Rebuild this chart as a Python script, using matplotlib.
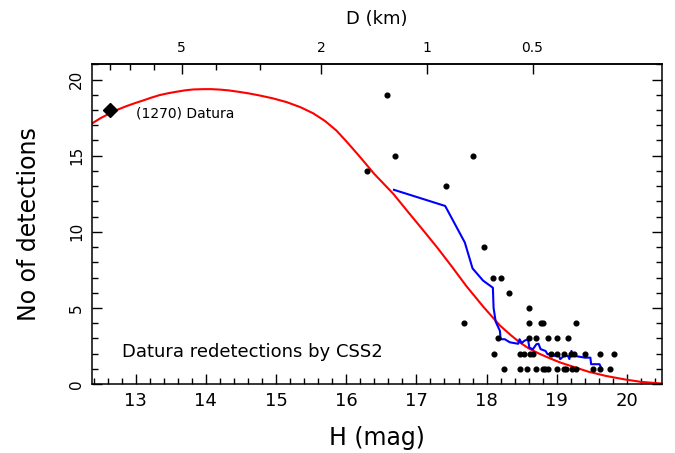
import numpy as np
import matplotlib.pyplot as plt
from matplotlib.ticker import MultipleLocator, FixedLocator, NullFormatter

plt.rcParams['font.family'] = ['DejaVu Sans']

# model curve (red)
model_h = [12.38, 12.50, 12.63, 12.75, 12.87, 13.00, 13.10, 13.22, 13.34, 13.46,
           13.58, 13.70, 13.82, 13.96, 14.08, 14.20, 14.32, 14.43, 14.60, 14.77,
           14.95, 15.15, 15.35, 15.53, 15.70, 15.86, 16.00, 16.19, 16.40, 16.67,
           16.90, 17.09, 17.30, 17.50, 17.71, 17.95, 18.19, 18.35, 18.47, 18.60,
           18.75, 18.90, 19.05, 19.23, 19.45, 19.70, 19.97, 20.20, 20.50]
model_n = [17.13, 17.47, 17.78, 18.04, 18.26, 18.47, 18.62, 18.81, 18.98, 19.10,
           19.20, 19.29, 19.35, 19.37, 19.37, 19.34, 19.29, 19.22, 19.10, 18.95,
           18.77, 18.52, 18.18, 17.78, 17.27, 16.65, 15.95, 14.95, 13.80, 12.50,
           11.20, 10.14, 8.95, 7.75, 6.45, 5.10, 3.85, 3.20, 2.75, 2.35,
           2.00, 1.70, 1.42, 1.15, 0.82, 0.54, 0.31, 0.15, 0.04]

# running mean (blue)
mean_h = [16.68, 17.41, 17.69, 17.80, 17.95, 18.09, 18.10, 18.13, 18.19, 18.20,
          18.26, 18.33, 18.45, 18.47, 18.50, 18.54, 18.59, 18.61, 18.66, 18.71,
          18.74, 18.77, 18.84, 18.87, 18.94, 18.97, 19.02, 19.05, 19.10, 19.16,
          19.18, 19.21, 19.23, 19.26, 19.40, 19.48, 19.49, 19.61, 19.63]
mean_n = [12.76, 11.70, 9.30, 7.60, 6.80, 6.33, 5.00, 4.10, 3.50, 2.95,
          2.95, 2.75, 2.65, 2.95, 2.70, 2.85, 2.95, 2.40, 2.29, 2.62,
          2.65, 2.30, 2.18, 1.96, 2.05, 1.85, 2.00, 1.64, 1.85, 1.85,
          1.65, 2.18, 1.90, 1.85, 1.74, 1.74, 1.31, 1.31, 1.10]

# individual detections (black dots)
det_h = [16.58, 16.69, 17.81, 16.29, 17.42, 17.97, 18.09, 18.20, 18.32, 18.60,
         17.68, 18.60, 18.77, 18.80, 19.27,
         18.17, 18.60, 18.71, 18.88, 19.00, 19.16,
         18.10, 18.47, 18.54, 18.62, 18.66, 18.92, 19.00, 19.11, 19.21, 19.25,
         19.41, 19.61, 19.81,
         18.25, 18.47, 18.57, 18.70, 18.80, 18.83, 18.87, 19.00, 19.10, 19.13,
         19.22, 19.28, 19.51, 19.61, 19.76]
det_n = [19, 15, 15, 14, 13, 9, 7, 7, 6, 5,
         4, 4, 4, 4, 4,
         3, 3, 3, 3, 3, 3,
         2, 2, 2, 2, 2, 2, 2, 2, 2, 2,
         2, 2, 2,
         1, 1, 1, 1, 1, 1, 1, 1, 1, 1,
         1, 1, 1, 1, 1]

datura_h = 12.63
datura_n = 18.0

# H at which D = 1 km (albedo conversion)
H_D1 = 17.15


def h_to_d(h):
    return 10 ** ((H_D1 - np.asarray(h, dtype=float)) / 5.0)


def d_to_h(d):
    d = np.clip(np.asarray(d, dtype=float), 1e-6, None)
    return H_D1 - 5.0 * np.log10(d)


fig = plt.figure(figsize=(6.75, 4.53), dpi=100)
ax = fig.add_axes([0.1367, 0.152, 0.8440, 0.706])

ax.plot(model_h, model_n, color='#ff0000', lw=1.5, zorder=2)
ax.plot(mean_h, mean_n, color='#0000ff', lw=1.5, zorder=3)
ax.plot(det_h, det_n, 'o', color='black', ms=3.4, zorder=4)
ax.plot([datura_h], [datura_n], 'D', color='black', ms=7.5, zorder=5)

ax.text(13.0, 17.75, '(1270) Datura', fontsize=10, va='center', ha='left')
ax.text(12.8, 1.75, 'Datura redetections by CSS2', fontsize=13, va='baseline', ha='left')

ax.set_xlim(12.38, 20.5)
ax.set_ylim(0, 21)

ax.xaxis.set_major_locator(MultipleLocator(1))
ax.xaxis.set_minor_locator(MultipleLocator(0.2))
ax.yaxis.set_major_locator(MultipleLocator(5))
ax.yaxis.set_minor_locator(MultipleLocator(1))

ax.tick_params(which='both', direction='in', top=False, right=True, width=1.0)
ax.tick_params(which='major', length=7)
ax.tick_params(which='minor', length=4)
ax.tick_params(axis='x', labelsize=13, pad=6)
ax.tick_params(axis='y', labelsize=11, pad=6, labelrotation=90)
for lbl in ax.get_yticklabels():
    lbl.set_va('center')

for sp in ax.spines.values():
    sp.set_linewidth(1.1)

ax.set_xlabel('H (mag)', fontsize=17, labelpad=11)
ax.set_ylabel('No of detections', fontsize=17, labelpad=20)

# top axis in diameter
sec = ax.secondary_xaxis('top', functions=(h_to_d, d_to_h))
sec.xaxis.set_major_locator(FixedLocator([5, 2, 1, 0.5]))
sec.xaxis.set_minor_locator(FixedLocator([9, 8, 7, 6, 4, 3]))
sec.xaxis.set_minor_formatter(NullFormatter())
sec.set_xticklabels(['5', '2', '1', '0.5'])
sec.tick_params(which='both', direction='in', width=1.0, labelsize=10, pad=7)
sec.tick_params(which='major', length=7)
sec.tick_params(which='minor', length=4)
sec.spines['top'].set_linewidth(1.1)
sec.set_xlabel('D (km)', fontsize=13, labelpad=12)

fig.savefig('out.png', dpi=100)
